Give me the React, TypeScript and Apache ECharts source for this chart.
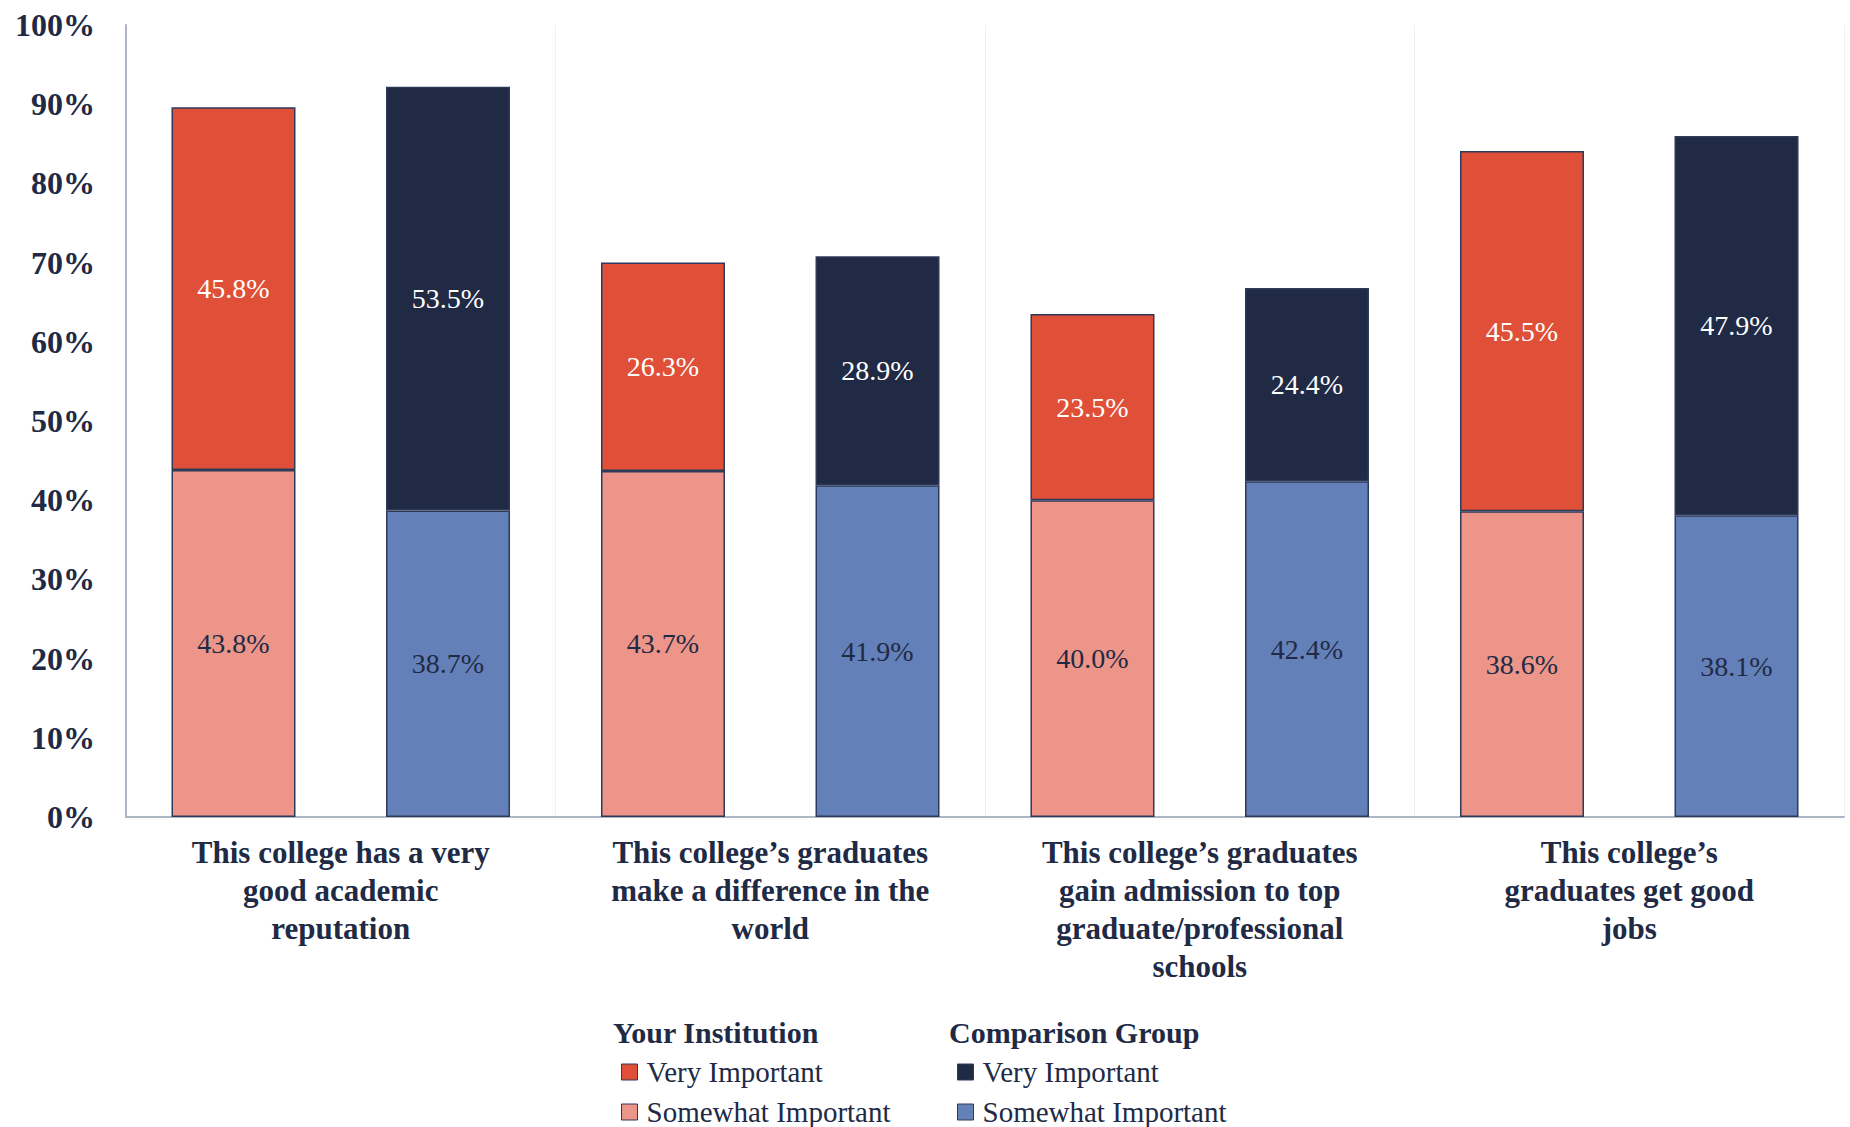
import React, { useEffect, useRef } from "react";
import * as echarts from "echarts";

const categories = [
  "This college has a very\ngood academic\nreputation",
  "This college’s graduates\nmake a difference in the\nworld",
  "This college’s graduates\ngain admission to top\ngraduate/professional\nschools",
  "This college’s\ngraduates get good\njobs",
];

const yiSomewhat = [43.8, 43.7, 40.0, 38.6];
const yiVery = [45.8, 26.3, 23.5, 45.5];
const cgSomewhat = [38.7, 41.9, 42.4, 38.1];
const cgVery = [53.5, 28.9, 24.4, 47.9];

const groupYI = "Your Institution";
const groupCG = "Comparison Group";
const levelVery = "Very Important";
const levelSomewhat = "Somewhat Important";

const NAVY = "#212A45";
const FONT = "'Liberation Serif', 'Times New Roman', serif";

export default function App() {
  const ref = useRef<HTMLDivElement>(null);

  useEffect(() => {
    document.body.style.margin = "0";
    const chart = echarts.init(ref.current!, null, { renderer: "svg" });

    const mkSeries = (
      group: string,
      level: string,
      data: number[],
      color: string,
      labelColor: string
    ) => ({
      name: group + "|" + level,
      type: "bar",
      stack: group,
      data,
      barWidth: 124,
      barGap: "73%",
      itemStyle: { color, borderColor: "#2E3A59", borderWidth: 1.5 },
      label: {
        show: true,
        position: "inside",
        color: labelColor,
        fontFamily: FONT,
        fontSize: 28,
        formatter: (p: any) => Number(p.value).toFixed(1) + "%",
      },
    });

    const legendCommon = {
      orient: "vertical",
      top: 1052,
      height: 200,
      itemWidth: 16,
      itemHeight: 16,
      itemGap: 10,
      icon: "rect",
      textStyle: { fontFamily: FONT, fontSize: 29, lineHeight: 30, color: NAVY, padding: [0, 0, 0, 4] },
      formatter: (name: string) => name.split("|")[1],
      itemStyle: { borderWidth: 1 },
    };

    chart.setOption({
      animation: false,
      backgroundColor: "#ffffff",
      grid: { left: 126, right: 6, top: 25, bottom: 310, containLabel: false },
      legend: [
        {
          ...legendCommon,
          left: 616,
          data: [groupYI + "|" + levelVery, groupYI + "|" + levelSomewhat],
        },
        {
          ...legendCommon,
          left: 952,
          data: [groupCG + "|" + levelVery, groupCG + "|" + levelSomewhat],
        },
      ],
      graphic: [
        {
          type: "text",
          left: 613,
          top: 1017,
          style: { text: groupYI, font: "bold 30px " + FONT, fill: NAVY },
        },
        {
          type: "text",
          left: 949,
          top: 1017,
          style: { text: groupCG, font: "bold 30px " + FONT, fill: NAVY },
        },
      ],
      xAxis: {
        type: "category",
        data: categories,
        axisLine: { show: true, lineStyle: { color: "#AEB6C4", width: 2 } },
        axisTick: { show: false },
        splitLine: { show: true, lineStyle: { color: "#F0F0F0", width: 1 } },
        axisLabel: {
          interval: 0,
          margin: 16,
          color: NAVY,
          fontFamily: FONT,
          fontWeight: "bold",
          fontSize: 31,
          lineHeight: 38,
        },
      },
      yAxis: {
        type: "value",
        min: 0,
        max: 100,
        interval: 10,
        axisLine: { show: true, lineStyle: { color: "#AEB6C4", width: 2 } },
        axisTick: { show: false },
        splitLine: { show: false },
        axisLabel: {
          margin: 31,
          color: NAVY,
          fontFamily: FONT,
          fontWeight: "bold",
          fontSize: 32,
          formatter: "{value}%",
        },
      },
      series: [
        mkSeries(groupYI, levelSomewhat, yiSomewhat, "#EC9588", NAVY),
        mkSeries(groupYI, levelVery, yiVery, "#E04F37", "#FFFFFF"),
        mkSeries(groupCG, levelSomewhat, cgSomewhat, "#6480B8", NAVY),
        mkSeries(groupCG, levelVery, cgVery, "#212A45", "#FFFFFF"),
      ],
    });

    return () => chart.dispose();
  }, []);

  return <div ref={ref} style={{ width: 1850, height: 1127 }} />;
}
